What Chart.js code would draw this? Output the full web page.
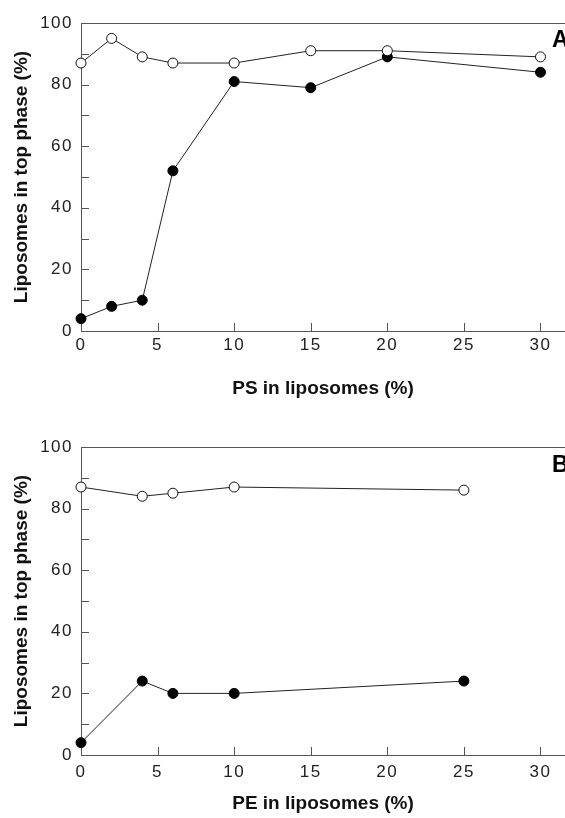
<!DOCTYPE html>
<html>
<head>
<meta charset="utf-8">
<script src="https://cdn.jsdelivr.net/npm/chart.js@4"></script>
<style>
  body { margin: 0; background: #fff; }
  .panel { position: absolute; left: 0; }
</style>
</head>
<body>
<div class="panel" style="top:0;width:565px;height:418px"><canvas id="chartA"></canvas></div>
<div class="panel" style="top:418px;width:565px;height:400px"><canvas id="chartB"></canvas></div>
<script>
// panel A: PS
const psX = [0, 2, 4, 6, 10, 15, 20, 30]
const psOpen = [87, 95, 89, 87, 87, 91, 91, 89]
const psFilled = [4, 8, 10, 52, 81, 79, 89, 84]

// panel B: PE
const peX = [0, 4, 6, 10, 25]
const peOpen = [87, 84, 85, 87, 86]
const peFilled = [4, 24, 20, 20, 24]

const xTicks = [0, 5, 10, 15, 20, 25, 30]
const yTicks = [0, 10, 20, 30, 40, 50, 60, 70, 80, 90, 100]
const yLabels = [0, 20, 40, 60, 80, 100]

const axisColor = "#555"
const family = "'Liberation Sans', Arial, sans-serif"
const tickFont = {family: family, size: 17}
const titleFont = {family: family, size: 19, weight: "bold"}

// inward ticks, top line, panel letter, spaced tick labels
const frame = {
    id: "frame",
    afterUpdate(chart) {
        Object.values(chart.scales).forEach(s => {
            if (s._spaced) return
            const orig = s.drawLabels.bind(s)
            s.drawLabels = function (ca) {
                const c = this.ctx
                c.save()
                c.letterSpacing = "1.5px"
                orig(ca)
                c.restore()
            }
            s._spaced = true
        })
    },
    beforeDatasetsDraw(chart, args, opts) {
        const {ctx, chartArea: a, scales: {x, y}} = chart
        ctx.save()
        ctx.strokeStyle = axisColor
        ctx.lineWidth = 1
        ctx.beginPath()
        ctx.moveTo(a.left, a.top + 0.5)
        ctx.lineTo(a.right, a.top + 0.5)
        yTicks.forEach(v => {
            const py = Math.round(y.getPixelForValue(v)) + 0.5
            ctx.moveTo(a.left, py)
            ctx.lineTo(a.left + 8, py)
        })
        xTicks.forEach(v => {
            const px = Math.round(x.getPixelForValue(v)) + 0.5
            ctx.moveTo(px, a.bottom)
            ctx.lineTo(px, a.bottom - 8)
        })
        ctx.stroke()
        ctx.fillStyle = "#000"
        ctx.font = "bold 23px " + family
        ctx.textBaseline = "middle"
        ctx.fillText(opts.letter, a.right - 13, a.top + opts.letterDy)
        ctx.restore()
    }
}

function makeChart(id, xs, open, filled, xTitle, letter, top, xHeight, labelPad, titleBottom, letterDy) {
    return new Chart(id, {
        type: "line",
        data: {
            datasets: [{
                data: xs.map((v, i) => ({x: v, y: open[i]})),
                borderColor: "#222",
                borderWidth: 1,
                pointRadius: 5,
                pointBorderWidth: 1,
                pointBorderColor: "#111",
                pointBackgroundColor: "#fff",
                clip: false,
                order: 0
            }, {
                data: xs.map((v, i) => ({x: v, y: filled[i]})),
                borderColor: "#222",
                borderWidth: 1,
                pointRadius: 5,
                pointBorderWidth: 1,
                pointBorderColor: "#000",
                pointBackgroundColor: "#000",
                clip: false,
                order: 1
            }]
        },
        options: {
            animation: false,
            responsive: true,
            maintainAspectRatio: false,
            layout: {autoPadding: false, padding: {top: top, right: 0, left: 0, bottom: 0}},
            plugins: {
                legend: {display: false},
                tooltip: {enabled: false},
                frame: {letter: letter, letterDy: letterDy}
            },
            scales: {
                x: {
                    type: "linear",
                    min: 0,
                    max: 31.6,
                    afterBuildTicks: s => { s.ticks = xTicks.map(v => ({value: v})) },
                    afterFit: s => { s.height = xHeight },
                    grid: {display: false, drawTicks: false},
                    border: {display: true, color: axisColor, width: 1},
                    ticks: {color: "#222", font: tickFont, padding: labelPad, maxRotation: 0},
                    title: {display: true, text: xTitle, color: "#111", font: titleFont,
                        padding: {top: 0, bottom: titleBottom}}
                },
                y: {
                    min: 0,
                    max: 100,
                    afterBuildTicks: s => { s.ticks = yTicks.map(v => ({value: v})) },
                    afterFit: s => { s.width = 81 },
                    grid: {display: false, drawTicks: false},
                    border: {display: true, color: axisColor, width: 1},
                    ticks: {color: "#222", font: tickFont, padding: 8,
                        callback: v => yLabels.includes(v) ? String(v) : ""},
                    title: {display: true, text: "Liposomes in top phase (%)", color: "#111",
                        font: titleFont, padding: {top: 10, bottom: 0}}
                }
            }
        },
        plugins: [frame]
    })
}

makeChart("chartA", psX, psOpen, psFilled, "PS in liposomes (%)", "A", 23, 87, 4, 18, 18)
makeChart("chartB", peX, peOpen, peFilled, "PE in liposomes (%)", "B", 29, 63, 7, 3, 19)
</script>
</body>
</html>
